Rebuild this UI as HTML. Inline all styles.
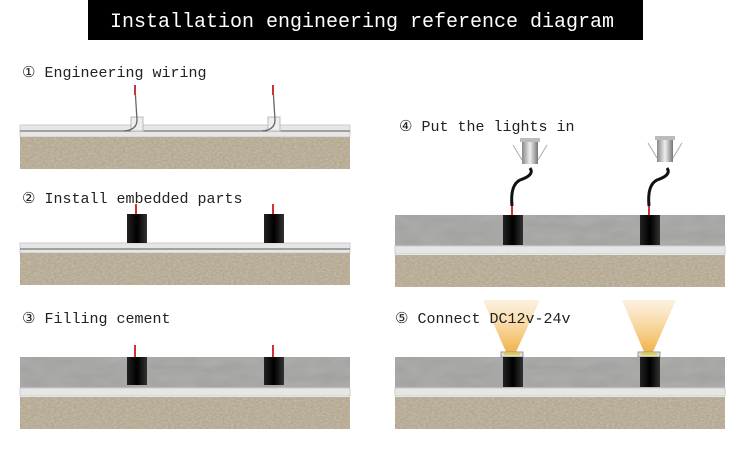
<!DOCTYPE html>
<html><head><style>
body{margin:0;width:750px;height:449px;background:#fff;overflow:hidden;font-family:"Liberation Mono","DejaVu Sans Mono",monospace;}
</style></head><body>
<svg width="750" height="449" xmlns="http://www.w3.org/2000/svg" style="position:absolute;left:0;top:0">
<defs>
<filter id="grav" x="0" y="0" width="100%" height="100%">
<feTurbulence type="fractalNoise" baseFrequency="0.35 0.6" numOctaves="2" seed="3"/>
<feColorMatrix type="matrix" values="0 0 0 0 0.55  0 0 0 0 0.50  0 0 0 0 0.42  0 0 0 -1.6 1.2"/>
</filter>
<filter id="conc" x="0" y="0" width="100%" height="100%">
<feTurbulence type="fractalNoise" baseFrequency="0.04 0.12" numOctaves="2" seed="7"/>
<feColorMatrix type="matrix" values="0 0 0 0 0.5  0 0 0 0 0.5  0 0 0 0 0.5  0 0 0 -0.6 0.5"/>
</filter>
<linearGradient id="cyl" x1="0" x2="1"><stop offset="0" stop-color="#222"/><stop offset="0.5" stop-color="#000"/><stop offset="1" stop-color="#333"/></linearGradient>
<linearGradient id="beam" x1="0" y1="1" x2="0" y2="0"><stop offset="0" stop-color="#f0b040" stop-opacity="0.95"/><stop offset="1" stop-color="#f5c880" stop-opacity="0.25"/></linearGradient>
<linearGradient id="lamp" x1="0" x2="1"><stop offset="0" stop-color="#888"/><stop offset="0.5" stop-color="#eee"/><stop offset="1" stop-color="#777"/></linearGradient>
<g id="gravel"><rect width="330" height="32" fill="#b3a68c"/><rect width="330" height="32" filter="url(#grav)"/></g>
<g id="concrete"><rect width="330" height="31" fill="#a2a2a0"/><rect width="330" height="31" filter="url(#conc)"/></g>
</defs>
<rect x="88" y="0" width="555" height="40" fill="#000"/>
<text x="362" y="27" fill="#fff" font-size="20" text-anchor="middle">Installation engineering reference diagram</text>
<!-- Panel 1 -->
<rect x="20" y="125" width="330" height="12" fill="#e6e6e6" stroke="#ccc"/>
<line x1="20" y1="131" x2="350" y2="131" stroke="#777" stroke-width="1.2"/>
<use href="#gravel" x="20" y="137"/>
<rect x="131" y="117" width="12" height="14" fill="#eee" stroke="#bbb"/>
<rect x="268" y="117" width="12" height="14" fill="#eee" stroke="#bbb"/>
<path d="M124 131 Q137 130 137 120 L135 88" stroke="#666" fill="none" stroke-width="1.3"/>
<path d="M262 131 Q275 130 275 120 L273 88" stroke="#666" fill="none" stroke-width="1.3"/>
<line x1="135" y1="85" x2="135" y2="95" stroke="#c33" stroke-width="2"/>
<line x1="273" y1="85" x2="273" y2="95" stroke="#c33" stroke-width="2"/>
<!-- Panel 2 -->
<rect x="20" y="243" width="330" height="10" fill="#e6e6e6" stroke="#ccc"/>
<line x1="20" y1="249" x2="350" y2="249" stroke="#777" stroke-width="1.2"/>
<use href="#gravel" x="20" y="253"/>
<rect x="127" y="214" width="20" height="29" fill="url(#cyl)"/>
<rect x="264" y="214" width="20" height="29" fill="url(#cyl)"/>
<line x1="136" y1="204" x2="136" y2="214" stroke="#c33" stroke-width="2"/>
<line x1="273" y1="204" x2="273" y2="214" stroke="#c33" stroke-width="2"/>
<!-- Panel 3 -->
<use href="#concrete" x="20" y="357"/>
<rect x="20" y="388" width="330" height="8" fill="#e6e6e6" stroke="#ccc"/>
<use href="#gravel" x="20" y="397"/>
<rect x="127" y="357" width="20" height="28" fill="url(#cyl)"/>
<rect x="264" y="357" width="20" height="28" fill="url(#cyl)"/>
<line x1="135" y1="345" x2="135" y2="357" stroke="#c33" stroke-width="2"/>
<line x1="273" y1="345" x2="273" y2="357" stroke="#c33" stroke-width="2"/>
<!-- Panel 4 -->
<use href="#concrete" x="395" y="215"/>
<rect x="395" y="246" width="330" height="8" fill="#e6e6e6" stroke="#ccc"/>
<use href="#gravel" x="395" y="255"/>
<rect x="503" y="215" width="20" height="30" fill="url(#cyl)"/>
<rect x="640" y="215" width="20" height="30" fill="url(#cyl)"/>
<line x1="512" y1="205" x2="512" y2="215" stroke="#c33" stroke-width="2"/>
<line x1="649" y1="205" x2="649" y2="215" stroke="#c33" stroke-width="2"/>
<path d="M512 206 Q510 185 520 180 Q535 175 530 168" stroke="#111" stroke-width="3" fill="none"/>
<path d="M649 206 Q647 185 657 180 Q672 175 667 168" stroke="#111" stroke-width="3" fill="none"/>
<rect x="520" y="138" width="20" height="4" fill="#bbb"/>
<rect x="522" y="142" width="16" height="22" fill="url(#lamp)"/>
<path d="M513 145 L522 160 M547 145 L538 160" stroke="#aaa"/>
<rect x="655" y="136" width="20" height="4" fill="#bbb"/>
<rect x="657" y="140" width="16" height="22" fill="url(#lamp)"/>
<path d="M648 143 L657 158 M682 143 L673 158" stroke="#aaa"/>
<!-- Panel 5 -->
<use href="#concrete" x="395" y="357"/>
<rect x="395" y="388" width="330" height="8" fill="#e6e6e6" stroke="#ccc"/>
<use href="#gravel" x="395" y="397"/>
<path d="M483 300 L540 300 L516 352 L506 352 Z" fill="url(#beam)"/>
<path d="M622 300 L676 300 L653 352 L644 352 Z" fill="url(#beam)"/>
<rect x="501" y="352" width="22" height="5" fill="#ddd" stroke="#999"/>
<rect x="504" y="353" width="16" height="2" fill="#e8d020"/>
<rect x="638" y="352" width="22" height="5" fill="#ddd" stroke="#999"/>
<rect x="641" y="353" width="16" height="2" fill="#e8d020"/>
<rect x="503" y="357" width="20" height="30" fill="url(#cyl)"/>
<rect x="640" y="357" width="20" height="30" fill="url(#cyl)"/>
<g font-size="15" fill="#222">
<text x="22" y="77">① Engineering wiring</text>
<text x="22" y="203">② Install embedded parts</text>
<text x="22" y="323">③ Filling cement</text>
<text x="399" y="131">④ Put the lights in</text>
<text x="395" y="323">⑤ Connect DC12v-24v</text>
</g>
</svg>
</body></html>
